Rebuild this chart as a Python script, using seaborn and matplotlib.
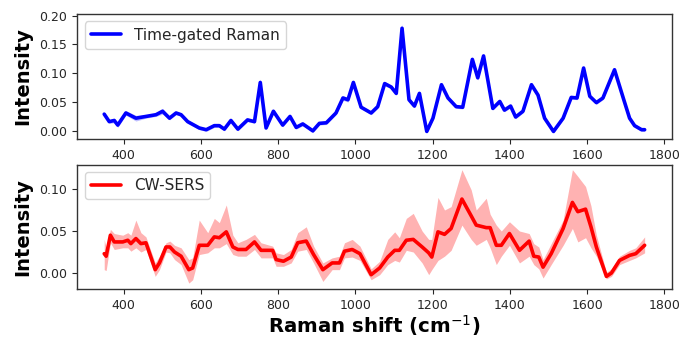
import numpy as np
import pandas as pd
import matplotlib
matplotlib.use("Agg")
import matplotlib.pyplot as plt
import seaborn as sns

# ---- Time-gated Raman (top) ----
tg_shift = [350, 363, 376, 385, 406, 432, 458, 484, 501, 519, 536, 549, 566, 596, 614,
            635, 648, 661, 678, 696, 721, 739, 754, 769, 788, 812, 831, 847, 864, 890,
            907, 925, 950, 968, 981, 995, 1015, 1041, 1058, 1076, 1093, 1106, 1121, 1139,
            1153, 1166, 1185, 1201, 1223, 1240, 1261, 1278, 1303, 1317, 1332, 1356, 1374,
            1386, 1402, 1415, 1434, 1456, 1473, 1490, 1513, 1538, 1559, 1574, 1591, 1607,
            1624, 1641, 1671, 1695, 1710, 1723, 1741, 1749]
tg_intensity = [0.029, 0.016, 0.018, 0.010, 0.031, 0.022, 0.025, 0.028, 0.034, 0.022,
                0.031, 0.028, 0.016, 0.005, 0.002, 0.009, 0.009, 0.003, 0.018, 0.003,
                0.019, 0.016, 0.084, 0.005, 0.034, 0.010, 0.025, 0.006, 0.012, 0.000,
                0.013, 0.014, 0.031, 0.057, 0.054, 0.084, 0.041, 0.031, 0.042, 0.082,
                0.076, 0.065, 0.178, 0.054, 0.043, 0.065, -0.001, 0.022, 0.080, 0.057,
                0.042, 0.041, 0.124, 0.092, 0.130, 0.039, 0.051, 0.036, 0.043, 0.024,
                0.034, 0.080, 0.062, 0.022, -0.001, 0.022, 0.058, 0.057, 0.109, 0.060,
                0.049, 0.057, 0.106, 0.054, 0.022, 0.009, 0.002, 0.002]
tg_err = [0.003, 0.003, 0.004, 0.004, 0.004, 0.005, 0.003, 0.003, 0.005, 0.003,
          0.003, 0.003, 0.003, 0.003, 0.003, 0.003, 0.003, 0.003, 0.003, 0.003,
          0.003, 0.003, 0.006, 0.003, 0.004, 0.003, 0.003, 0.003, 0.003, 0.003,
          0.003, 0.003, 0.003, 0.004, 0.004, 0.004, 0.003, 0.003, 0.003, 0.004,
          0.003, 0.003, 0.008, 0.003, 0.003, 0.003, 0.003, 0.003, 0.004, 0.003,
          0.003, 0.003, 0.004, 0.004, 0.004, 0.003, 0.003, 0.003, 0.003, 0.003,
          0.003, 0.004, 0.003, 0.003, 0.003, 0.003, 0.003, 0.003, 0.004, 0.003,
          0.003, 0.003, 0.004, 0.003, 0.003, 0.003, 0.003, 0.003]

# ---- CW-SERS (bottom) ----
sers_shift = [350, 355, 366, 376, 398, 411, 419, 432, 445, 458, 482, 493, 510, 520, 532,
              549, 569, 579, 596, 618, 635, 648, 666, 683, 696, 717, 739, 756, 786, 795,
              814, 834, 851, 873, 892, 916, 940, 959, 972, 992, 1012, 1041, 1063, 1084,
              1102, 1114, 1132, 1150, 1173, 1190, 1198, 1214, 1231, 1248, 1276, 1300,
              1313, 1339, 1349, 1365, 1378, 1399, 1425, 1450, 1462, 1475, 1486, 1507,
              1538, 1562, 1576, 1596, 1610, 1624, 1650, 1663, 1684, 1710, 1726, 1749]
sers_intensity = [0.023, 0.020, 0.045, 0.037, 0.037, 0.039, 0.035, 0.041, 0.035, 0.036,
                  0.004, 0.012, 0.031, 0.031, 0.025, 0.020, 0.004, 0.006, 0.033, 0.033,
                  0.043, 0.042, 0.049, 0.031, 0.028, 0.028, 0.037, 0.027, 0.027, 0.016,
                  0.014, 0.019, 0.036, 0.038, 0.022, 0.004, 0.012, 0.012, 0.026, 0.028,
                  0.023, -0.002, 0.006, 0.019, 0.027, 0.027, 0.039, 0.040, 0.031, 0.024,
                  0.019, 0.049, 0.046, 0.053, 0.088, 0.068, 0.057, 0.054, 0.054, 0.033,
                  0.033, 0.047, 0.027, 0.038, 0.020, 0.019, 0.007, 0.023, 0.053, 0.084,
                  0.073, 0.076, 0.055, 0.031, -0.004, 0.000, 0.015, 0.021, 0.023, 0.033]
sers_upper = [0.040, 0.030, 0.052, 0.047, 0.045, 0.048, 0.045, 0.063, 0.048, 0.043,
              0.012, 0.020, 0.036, 0.038, 0.033, 0.030, 0.016, 0.018, 0.063, 0.048,
              0.065, 0.060, 0.081, 0.045, 0.036, 0.040, 0.046, 0.036, 0.032, 0.024,
              0.022, 0.028, 0.048, 0.055, 0.032, 0.012, 0.018, 0.020, 0.036, 0.040,
              0.032, 0.005, 0.014, 0.040, 0.049, 0.042, 0.065, 0.071, 0.050, 0.040,
              0.040, 0.090, 0.075, 0.079, 0.123, 0.099, 0.075, 0.089, 0.070, 0.057,
              0.050, 0.061, 0.050, 0.047, 0.035, 0.031, 0.016, 0.035, 0.063, 0.123,
              0.115, 0.103, 0.080, 0.045, 0.001, 0.005, 0.020, 0.027, 0.030, 0.043]
sers_lower = [0.004, 0.003, 0.036, 0.028, 0.030, 0.030, 0.026, 0.030, 0.025, 0.028,
              -0.004, 0.004, 0.025, 0.024, 0.016, 0.010, -0.012, -0.008, 0.022, 0.024,
              0.030, 0.030, 0.035, 0.022, 0.020, 0.020, 0.028, 0.018, 0.018, 0.008,
              0.008, 0.012, 0.026, 0.028, 0.012, -0.010, 0.004, 0.004, 0.018, 0.019,
              0.015, -0.008, -0.002, 0.010, 0.015, 0.013, 0.027, 0.025, 0.012, -0.002,
              0.004, 0.015, 0.020, 0.027, 0.057, 0.040, 0.033, 0.040, 0.030, 0.010,
              0.020, 0.033, 0.012, 0.020, 0.010, 0.005, -0.006, 0.010, 0.033, 0.053,
              0.037, 0.042, 0.030, 0.020, -0.007, -0.004, 0.010, 0.015, 0.018, 0.024]

top_yticks = [0.00, 0.05, 0.10, 0.15, 0.20]
bottom_yticks = [0.00, 0.05, 0.10]
x_ticks = [400, 600, 800, 1000, 1200, 1400, 1600, 1800]

sns.set_style("ticks")
plt.rcParams['font.family'] = ['DejaVu Sans']

fig = plt.figure(figsize=(6.83, 3.38), dpi=100)
ax1 = fig.add_axes([0.113, 0.589, 0.871, 0.370])
ax2 = fig.add_axes([0.113, 0.144, 0.871, 0.369])

tg = pd.DataFrame({"shift": tg_shift, "I": tg_intensity, "err": tg_err})
se = pd.DataFrame({"shift": sers_shift, "I": sers_intensity,
                   "lo": sers_lower, "hi": sers_upper})

ax1.fill_between(tg["shift"], tg["I"] - tg["err"], tg["I"] + tg["err"],
                 color="blue", alpha=0.25, lw=0)
sns.lineplot(data=tg, x="shift", y="I", ax=ax1, color="blue", lw=2.6,
             label="Time-gated Raman", solid_joinstyle="round")

ax2.fill_between(se["shift"], se["lo"], se["hi"], color="red", alpha=0.3, lw=0)
sns.lineplot(data=se, x="shift", y="I", ax=ax2, color="red", lw=2.6,
             label="CW-SERS", solid_joinstyle="round")

for ax in (ax1, ax2):
    ax.set_xlim(280, 1820)
    ax.set_xticks(x_ticks)
    ax.tick_params(labelsize=9, length=3.5, width=0.8)
    ax.set_ylabel("Intensity", fontsize=14, fontweight="bold", color="black")
    ax.set_xlabel("")
    ax.legend(loc="upper left", fontsize=11, handlelength=2.0)
    for s in ax.spines.values():
        s.set_linewidth(1.0)
        s.set_color("#333333")

ax1.set_ylim(-0.014, 0.203)
ax1.set_yticks(top_yticks)
ax1.set_yticklabels([f"{v:.2f}" for v in top_yticks])
ax2.set_ylim(-0.0194, 0.129)
ax2.set_yticks(bottom_yticks)
ax2.set_yticklabels([f"{v:.2f}" for v in bottom_yticks])
ax2.set_xlabel("Raman shift (cm$^{-1}$)", fontsize=14.2, fontweight="bold",
               color="black", labelpad=0.5)
ax1.yaxis.set_label_coords(-0.076, 0.5)
ax2.yaxis.set_label_coords(-0.076, 0.5)

fig.savefig("out.png", dpi=100)
